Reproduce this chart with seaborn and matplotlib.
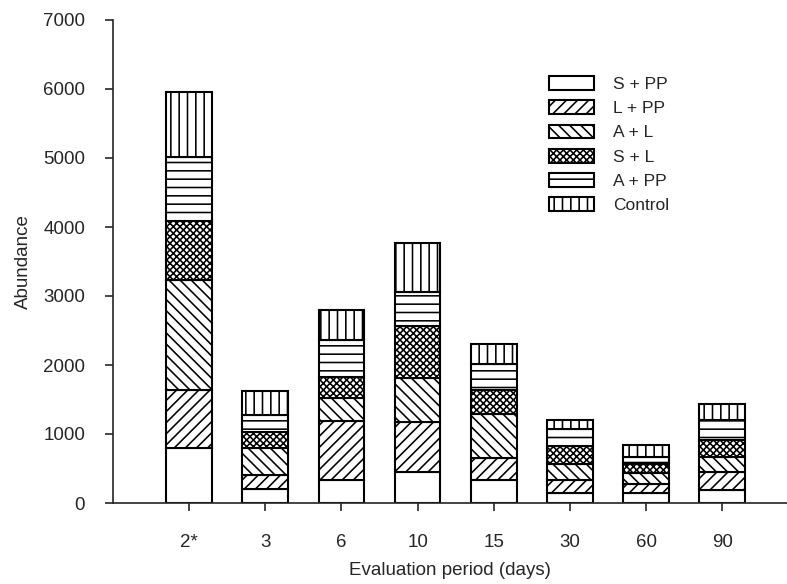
import matplotlib
matplotlib.use("Agg")
import matplotlib.pyplot as plt
import seaborn as sns
import numpy as np
from matplotlib.patches import Patch

periods = ["2*", "3", "6", "10", "15", "30", "60", "90"]
s_pp = [790, 210, 335, 455, 335, 140, 150, 190]
l_pp = [850, 195, 855, 725, 315, 200, 125, 265]
a_l = [1590, 385, 330, 630, 640, 222, 155, 218]
s_l = [850, 240, 300, 760, 350, 260, 130, 242]
a_pp = [940, 245, 545, 495, 375, 257, 110, 290]
control = [930, 355, 435, 710, 290, 130, 170, 232]
treatments = ["S + PP", "L + PP", "A + L", "S + L", "A + PP", "Control"]
series = [s_pp, l_pp, a_l, s_l, a_pp, control]
hatches = ["", "///", "\\\\\\", "xxxxx", "--", "||"]

sns.set_style("ticks")
plt.rcParams["font.family"] = ["Liberation Sans", "DejaVu Sans"]
plt.rcParams["hatch.color"] = "black"
plt.rcParams["hatch.linewidth"] = 1.15

fig = plt.figure(figsize=(7.87, 5.84), dpi=100)
ax = fig.add_axes([113 / 787, 81 / 584, (787 - 113) / 787, (503 - 20) / 584])

bottom = np.zeros(len(periods))
for name, vals, h in zip(treatments, series, hatches):
    sns.barplot(x=periods, y=vals, order=periods, bottom=bottom.copy(), color="white",
                edgecolor="black", linewidth=1.5, width=0.6, errorbar=None,
                saturation=1, ax=ax)
    cont = ax.containers[-1]
    for p in cont.patches:
        p.set_hatch(h)
        p.set_facecolor("white")
    bottom += np.array(vals)

ax.set_ylim(0, 7000)
ax.set_xlim(-1.0, 7.85)
ax.set_yticks(range(0, 7001, 1000))
sns.despine(ax=ax)
for s in ["left", "bottom"]:
    ax.spines[s].set_linewidth(1.2)
ax.tick_params(axis="y", length=6, width=1.2, pad=14, labelsize=13.5)
ax.tick_params(axis="x", length=6, width=1.2, pad=16, labelsize=13.5)
ax.set_xlabel("Evaluation period (days)", fontsize=13.5, labelpad=8)
ax.set_ylabel("Abundance", fontsize=13.5, labelpad=8)

handles = [Patch(facecolor="white", edgecolor="black", hatch=h, linewidth=1.5) for h in hatches]
ax.legend(handles, treatments, loc="upper left", bbox_to_anchor=(549 / 787, 1 - 76 / 584),
          bbox_transform=fig.transFigure, frameon=False, fontsize=12.5, borderpad=0,
          borderaxespad=0, handlelength=2.6, handleheight=0.85, handletextpad=1.1,
          labelspacing=0.48)

fig.savefig("out.png", dpi=100)
